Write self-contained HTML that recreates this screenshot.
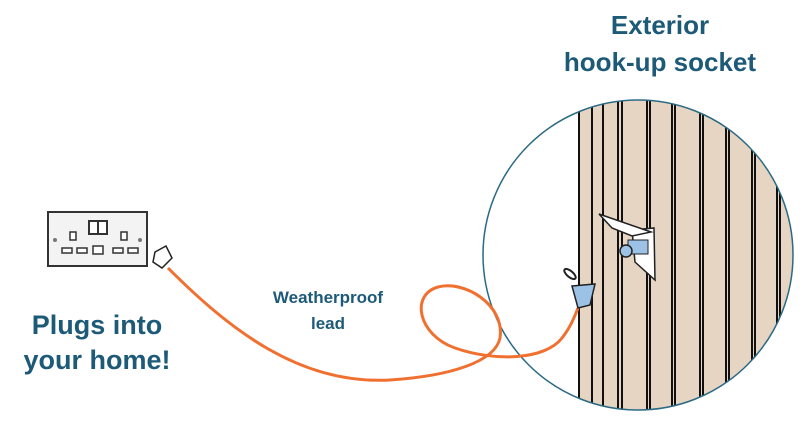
<!DOCTYPE html>
<html><head><style>
body{margin:0;background:#fff;}
svg{display:block}
text{font-family:"Liberation Sans",sans-serif;font-weight:bold;fill:#1d5a78;text-anchor:middle}
</style></head><body>
<svg width="800" height="443" viewBox="0 0 800 443">
<defs><clipPath id="c"><circle cx="638" cy="255" r="155"/></clipPath></defs>
<text x="660" y="34" font-size="26">Exterior</text>
<text x="660" y="71" font-size="26">hook-up socket</text>
<text x="97" y="334" font-size="27">Plugs into</text>
<text x="97" y="369" font-size="27">your home!</text>
<text x="328" y="303" font-size="17">Weatherproof</text>
<text x="328" y="329" font-size="17">lead</text>
<!-- wood -->
<g clip-path="url(#c)">
<rect x="578" y="90" width="230" height="330" fill="#e6d5c3"/>
<g stroke="#111" stroke-width="2">
<line x1="579" y1="90" x2="579" y2="420"/>
<line x1="592" y1="90" x2="592" y2="420"/><line x1="603" y1="90" x2="603" y2="420"/>
<line x1="618" y1="90" x2="618" y2="420"/><line x1="622" y1="90" x2="622" y2="420"/>
<line x1="647" y1="90" x2="647" y2="420"/><line x1="650" y1="90" x2="650" y2="420"/>
<line x1="672" y1="90" x2="672" y2="420"/><line x1="675" y1="90" x2="675" y2="420"/>
<line x1="700" y1="90" x2="700" y2="420"/><line x1="703" y1="90" x2="703" y2="420"/>
<line x1="726" y1="90" x2="726" y2="420"/><line x1="729" y1="90" x2="729" y2="420"/>
<line x1="752" y1="90" x2="752" y2="420"/><line x1="755" y1="90" x2="755" y2="420"/>
<line x1="777" y1="90" x2="777" y2="420"/><line x1="780" y1="90" x2="780" y2="420"/>
</g>
</g>
<circle cx="638" cy="255" r="155" fill="none" stroke="#2b6a85" stroke-width="1.5"/>
<!-- wall socket -->
<polygon points="632,230 654,228 655,280 635,262" fill="#fff" stroke="#222" stroke-width="1.5"/>
<polygon points="599,214 651,232 632,236 612,228" fill="#fff" stroke="#222" stroke-width="1.5"/>
<rect x="628" y="240" width="20" height="14" fill="#9cc3e6" stroke="#222"/>
<circle cx="626" cy="251" r="6" fill="#9cc3e6" stroke="#222" stroke-width="1.5"/>
<!-- cable -->
<path d="M168,268 C230,330 300,385 390,380 C450,376 495,362 500,338 C505,305 465,280 438,287 C410,295 418,335 455,348 C495,362 545,360 562,338 C570,328 574,318 578,308" fill="none" stroke="#f07030" stroke-width="3"/>
<!-- cable plug -->
<polygon points="572,286 595,284 590,305 578,308" fill="#9cc3e6" stroke="#222" stroke-width="1.5"/>
<ellipse cx="570" cy="274" rx="7" ry="3" transform="rotate(40 570 274)" fill="#fff" stroke="#222" stroke-width="2"/>
<!-- home socket -->
<rect x="48" y="212" width="99" height="54" fill="#f3f3f3" stroke="#333" stroke-width="2"/>
<rect x="89" y="221" width="18" height="13" fill="#fff" stroke="#333" stroke-width="2"/>
<line x1="98" y1="221" x2="98" y2="234" stroke="#333" stroke-width="2"/>
<g fill="#fff" stroke="#333" stroke-width="1.5">
<rect x="70" y="232" width="6" height="8"/><rect x="62" y="248" width="10" height="5"/><rect x="77" y="248" width="10" height="5"/>
<rect x="121" y="232" width="6" height="8"/><rect x="113" y="248" width="10" height="5"/><rect x="128" y="248" width="10" height="5"/>
<rect x="93" y="246" width="10" height="8"/>
</g>
<circle cx="55" cy="240" r="2" fill="#777"/><circle cx="140" cy="240" r="2" fill="#777"/>
<polygon points="155,252 166,246 172,258 162,268 153,262" fill="#fff" stroke="#222" stroke-width="1.5"/>
</svg>
</body></html>
